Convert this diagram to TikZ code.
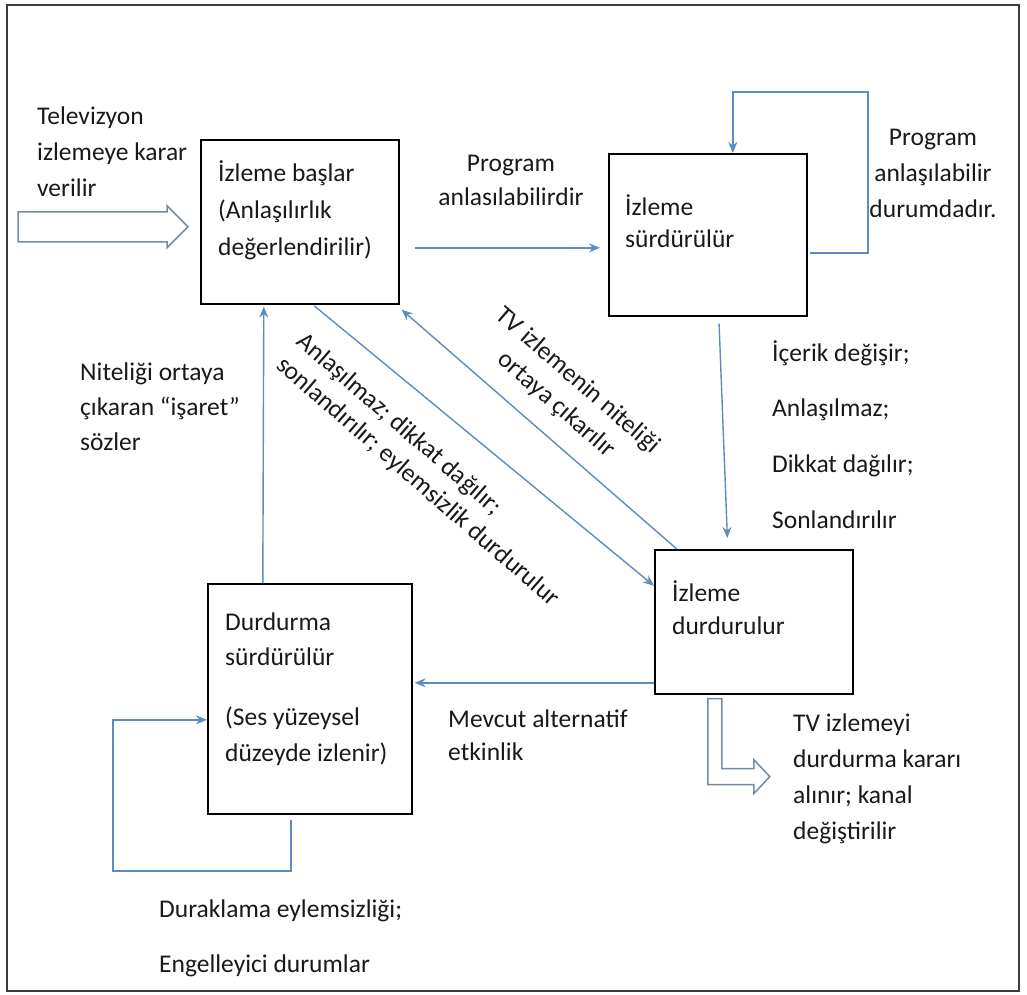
\documentclass[tikz,border=0pt]{standalone}
\usepackage{fontspec}
\setmainfont{Carlito}
\usepackage{tikz}
\usetikzlibrary{arrows.meta}

\definecolor{flowblue}{RGB}{95,140,190}
\definecolor{fatgray}{RGB}{120,138,160}
\definecolor{framegray}{RGB}{60,60,60}

\begin{document}
\begin{tikzpicture}[x=1pt,y=-1pt,
  >={Stealth[length=11pt,width=9pt]},
  box/.style={draw=black,line width=1.6pt,anchor=north west,inner sep=0pt},
  txt/.style={anchor=north west,inner sep=0pt,align=left,text=black!90,font=\fontsize{25.5}{36}\selectfont},
  flow/.style={->,draw=flowblue,line width=1.4pt},
  fat/.style={draw=fatgray,line width=1.5pt,fill=white,line join=miter}]
\useasboundingbox (0,0) rectangle (1027,994);
\draw[framegray,line width=1.6pt] (7,5) rectangle (1019,991);
%
\node[box,minimum width=198pt,minimum height=164pt](start) at (200,139) {};
\node[txt](starttxt) at (218,160) {İzleme başlar\\[1pt](Anlaşılırlık\\[1pt]değerlendirilir)};
%
\node[txt](tvtxt) at (37,107) {Televizyon\\izlemeye karar\\verilir};
\draw[fat] ([xshift=-12pt,yshift=-5pt]start.west) -- ++(-21,-21) -- ++(0,6) -- ++(-149,0) -- ++(0,30) -- ++(149,0) -- ++(0,6) -- cycle;
%
\node[box,minimum width=198pt,minimum height=162pt](cont) at (608,153) {};
\node[txt](conttxt) at (625,194) {İzleme\\[-4pt]sürdürülür};
\node[txt,anchor=north,align=center](prog1) at (511,155) {Program\\[-2pt]anlasılabilirdir};
\draw[flow,shorten <=15pt,shorten >=8pt] ([yshift=-26pt]start.east) -- ([yshift=-13pt]cont.west);
%
\coordinate(contloop) at (868,92);
\draw[flow,shorten <=2pt] ([yshift=-18pt]cont.east) -| (contloop) -| ([xshift=25pt]cont.north);
\node[txt,anchor=north,align=center](prog2) at (933,129) {Program\\anlaşılabilir\\durumdadır.};
%
\node[box,minimum width=198pt,minimum height=144pt](stop) at (654,549) {};
\node[txt](stoptxt) at (672,580) {İzleme\\[-3pt]durdurulur};
\draw[flow,shorten <=7pt,shorten >=11pt] ([xshift=11pt]cont.south) -- ([xshift=-26pt]stop.north);
\node[txt,font=\fontsize{25.5}{55.7}\selectfont](why) at (772,340) {İçerik değişir;\\Anlaşılmaz;\\Dikkat dağılır;\\Sonlandırılır};
%
\draw[flow,shorten <=2pt] ([xshift=13pt]start.south) -- ([yshift=36pt]stop.west);
\node[txt,rotate=-41](whystop) at (307,330) {Anlaşılmaz; dikkat dağılır;\\[-5pt]sonlandırılır; eylemsizlik durdurulur};
%
\draw[flow] ([xshift=-77pt]stop.north) -- ([xshift=2pt,yshift=-5pt]start.south east);
\node[txt,anchor=center,align=center,rotate=-41](qual) at (567,393) {TV izlemenin niteliği\\[-4pt]ortaya çıkarılır};
%
\node[box,minimum width=204pt,minimum height=230pt](hold) at (207,583) {};
\node[txt](holdtxt) at (225,613) {Durdurma\\[-1pt]sürdürülür\\[24pt](Ses yüzeysel\\düzeyde izlenir)};
\draw[flow] ([yshift=-61pt]stop.west) -- ([xshift=2pt,yshift=16pt]hold.east);
\node[txt](alt) at (448,710) {Mevcut alternatif\\[-3pt]etkinlik};
%
\draw[fat] ([xshift=-46pt,yshift=-4pt]stop.south) -- ++(14,0) -- ++(0,70) -- ++(32,0) -- ++(0,-9) -- ++(16,17) -- ++(-16,17) -- ++(0,-9) -- ++(-46,0) -- cycle;
\node[txt](quit) at (793,714) {TV izlemeyi\\durdurma kararı\\alınır; kanal\\değiştirilir};
%
\draw[flow,shorten >=2pt] ([xshift=-47pt]hold.north) -- ([xshift=-36pt]start.south);
\node[txt](cue) at (80,363) {Niteliği ortaya\\[-1pt]çıkaran “işaret”\\[-1pt]sözler};
%
\coordinate(holdloop) at (113,871);
\draw[flow,shorten <=5pt] ([xshift=-19pt]hold.south) |- (holdloop) |- ([yshift=-21pt]hold.west);
\node[txt,font=\fontsize{25.5}{55}\selectfont](pausewhy) at (159,900) {Duraklama eylemsizliği;\\Engelleyici durumlar};
\end{tikzpicture}
\end{document}
